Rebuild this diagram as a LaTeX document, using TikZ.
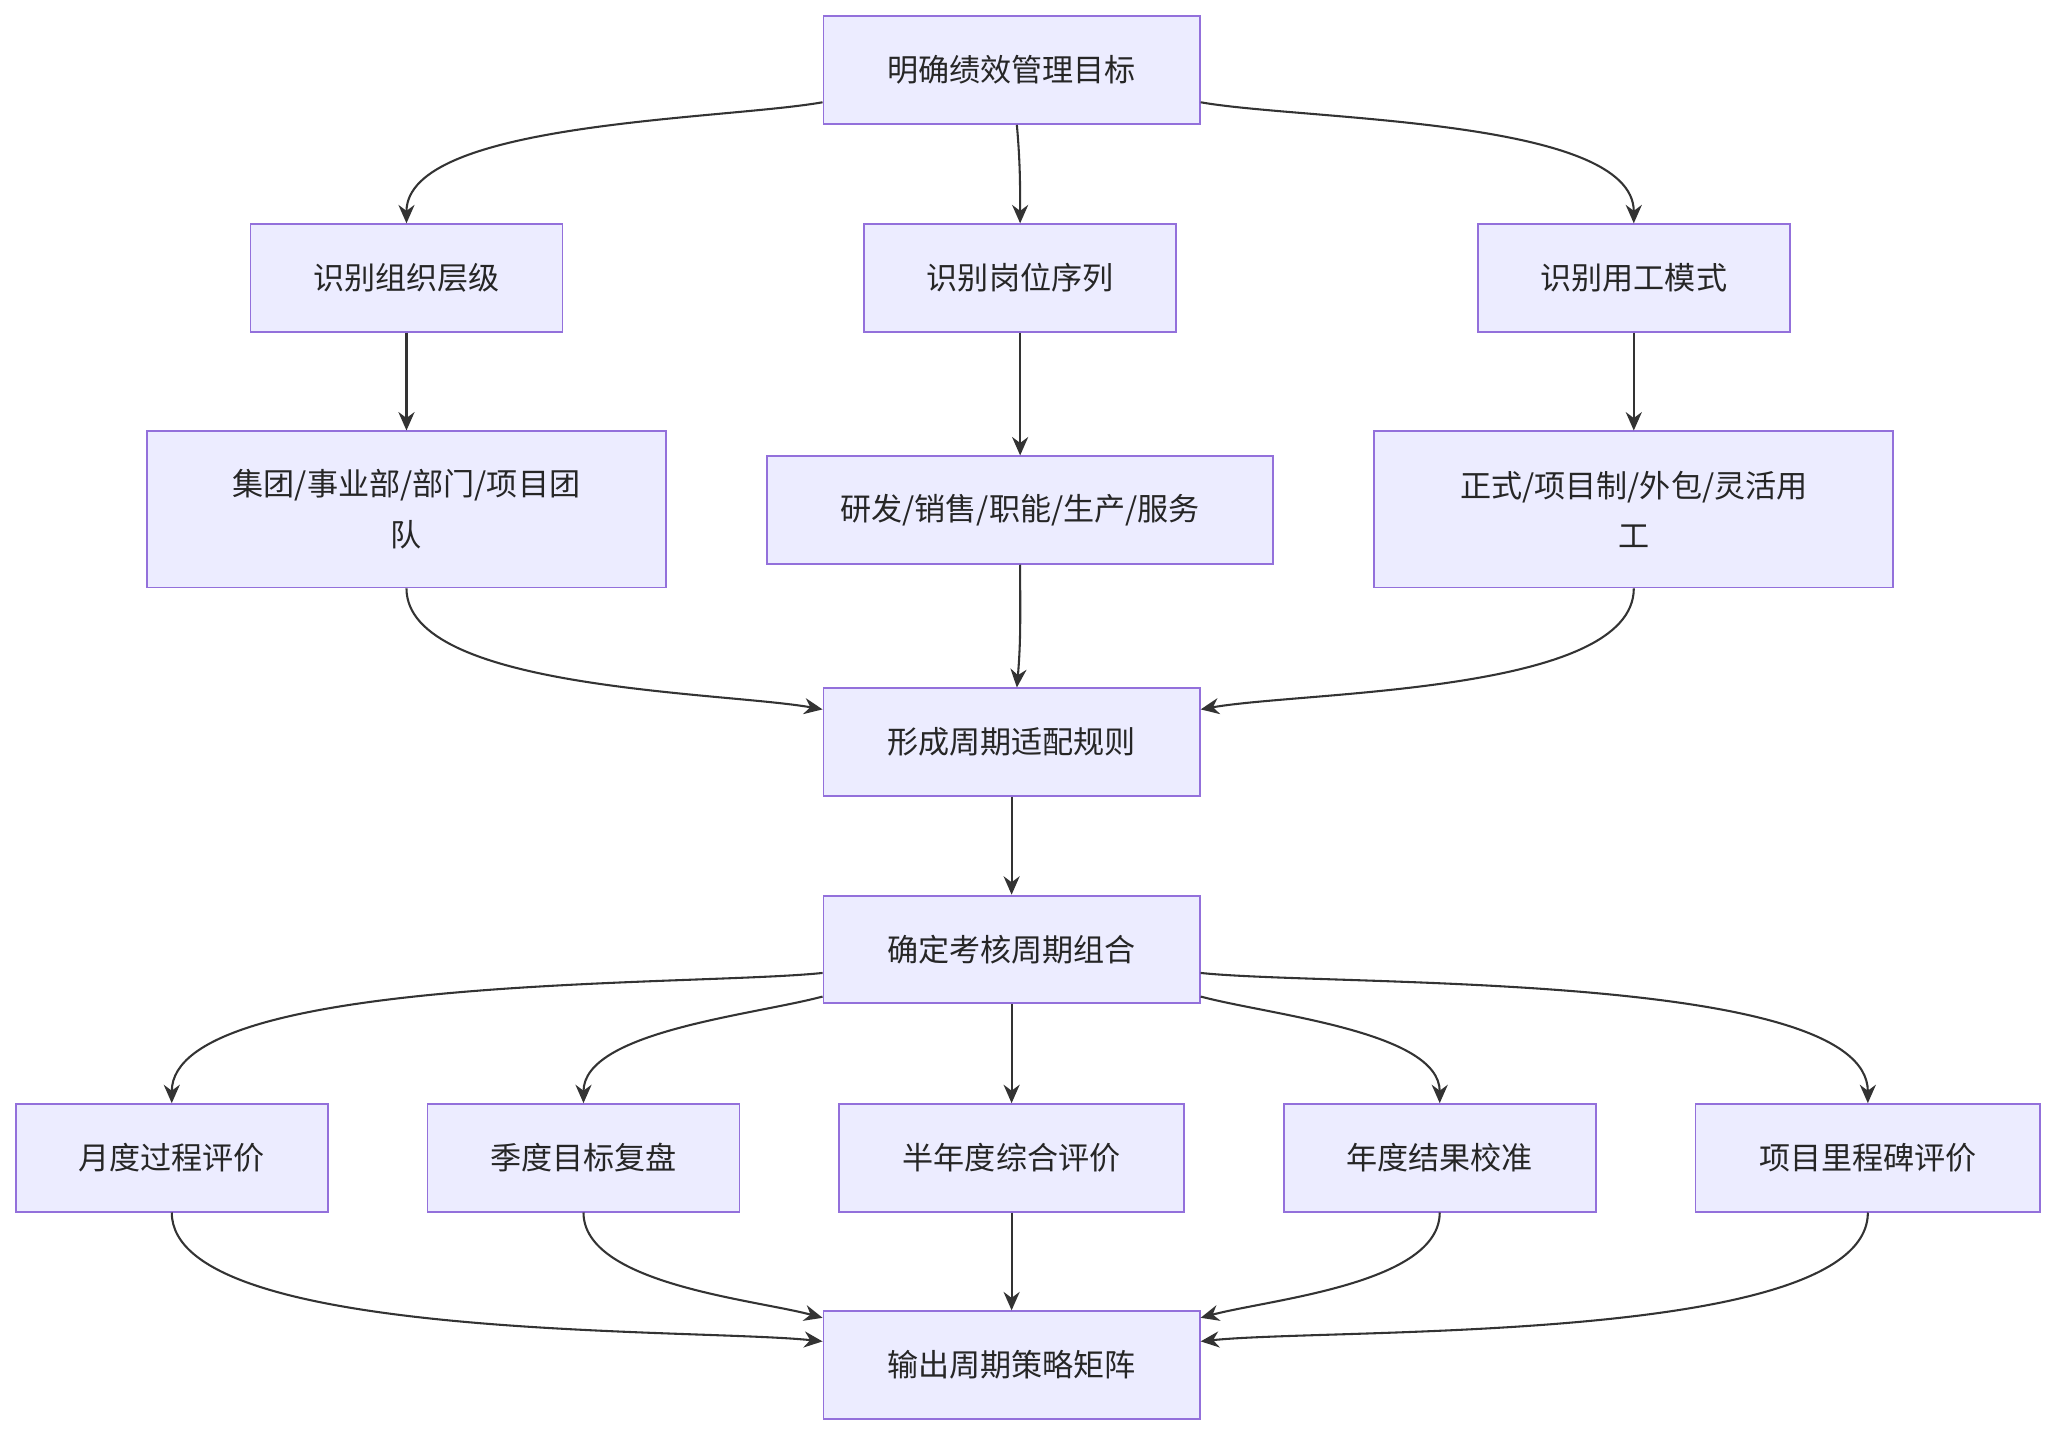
\documentclass[tikz,border=0pt]{standalone}
\usepackage{fontspec}
\setmainfont{Noto Sans CJK SC}
\usetikzlibrary{arrows.meta,calc}
\definecolor{boxfill}{HTML}{ECECFF}
\definecolor{boxline}{HTML}{9370DB}
\definecolor{edge}{HTML}{333333}
\tikzset{
  box/.style={draw=boxline,fill=boxfill,line width=0.8pt,minimum height=1.64cm,
    align=center,font=\fontsize{13.5}{22}\selectfont,text=black!85},
  link/.style={draw=edge,line width=0.9pt,-{Stealth[length=8pt,width=7pt]}}
}
\begin{document}
\begin{tikzpicture}[x=0.02cm,y=-0.02cm]
\useasboundingbox[fill=white] (0,0) rectangle (1568,1096);
% goal and three dimensions
\node[box,minimum width=5.74cm] (goal) at (771.5,53.5) {明确绩效管理目标};
\node[box,minimum width=4.76cm] (org) at (310,212) {识别组织层级};
\node[box,minimum width=4.76cm] (post) at (778,212) {识别岗位序列};
\node[box,minimum width=4.76cm] (mode) at (1246,212) {识别用工模式};
\node[box,minimum width=7.92cm,minimum height=2.38cm] (orgs) at (310,388.5) {集团/事业部/部门/项目团\\队};
\node[box,minimum width=7.72cm] (posts) at (778,389) {研发/销售/职能/生产/服务};
\node[box,minimum width=7.92cm,minimum height=2.38cm] (modes) at (1246,388.5) {正式/项目制/外包/灵活用\\工};
\node[box,minimum width=5.74cm] (rule) at (771.5,566) {形成周期适配规则};
\node[box,minimum width=5.74cm] (combo) at (771.5,724) {确定考核周期组合};
% cycles
\node[box,minimum width=4.76cm] (month) at (131,883) {月度过程评价};
\node[box,minimum width=4.76cm] (quarter) at (445,883) {季度目标复盘};
\node[box,minimum width=5.26cm] (half) at (771.5,883) {半年度综合评价};
\node[box,minimum width=4.76cm] (year) at (1098,883) {年度结果校准};
\node[box,minimum width=5.26cm] (mile) at (1424.5,883) {项目里程碑评价};
\node[box,minimum width=5.74cm] (out) at (771.5,1041) {输出周期策略矩阵};

\draw[link] ($(goal.west)+(0,24.5)$) to[out=190,in=90,looseness=0.6] (org.north);
\draw[link] ($(goal.south)+(4,0)$) to[out=-85,in=90] (post.north);
\draw[link] ($(goal.east)+(0,24.5)$) to[out=-10,in=90,looseness=0.6] (mode.north);
\draw[link] (org) -- (orgs);
\draw[link] (post) -- (posts);
\draw[link] (mode) -- (modes);
\draw[link] (orgs.south) to[out=-90,in=170,looseness=0.6] ($(rule.west)+(0,-25)$);
\draw[link] (posts.south) to[out=-90,in=85] ($(rule.north)+(4,0)$);
\draw[link] (modes.south) to[out=-90,in=10,looseness=0.6] ($(rule.east)+(0,-25)$);
\draw[link] (rule) -- (combo);

\draw[link] ($(combo.west)+(0,18)$) to[out=186,in=90,looseness=0.5] (month.north);
\draw[link] ($(combo.west)+(0,36)$) to[out=195,in=90,looseness=0.7] (quarter.north);
\draw[link] (combo) -- (half);
\draw[link] ($(combo.east)+(0,36)$) to[out=-15,in=90,looseness=0.7] (year.north);
\draw[link] ($(combo.east)+(0,18)$) to[out=-6,in=90,looseness=0.5] (mile.north);
\draw[link] (month.south) to[out=-90,in=174,looseness=0.5] ($(out.west)+(0,-18)$);
\draw[link] (quarter.south) to[out=-90,in=165,looseness=0.7] ($(out.west)+(0,-36)$);
\draw[link] (half) -- (out);
\draw[link] (year.south) to[out=-90,in=15,looseness=0.7] ($(out.east)+(0,-36)$);
\draw[link] (mile.south) to[out=-90,in=6,looseness=0.5] ($(out.east)+(0,-18)$);
\end{tikzpicture}
\end{document}
